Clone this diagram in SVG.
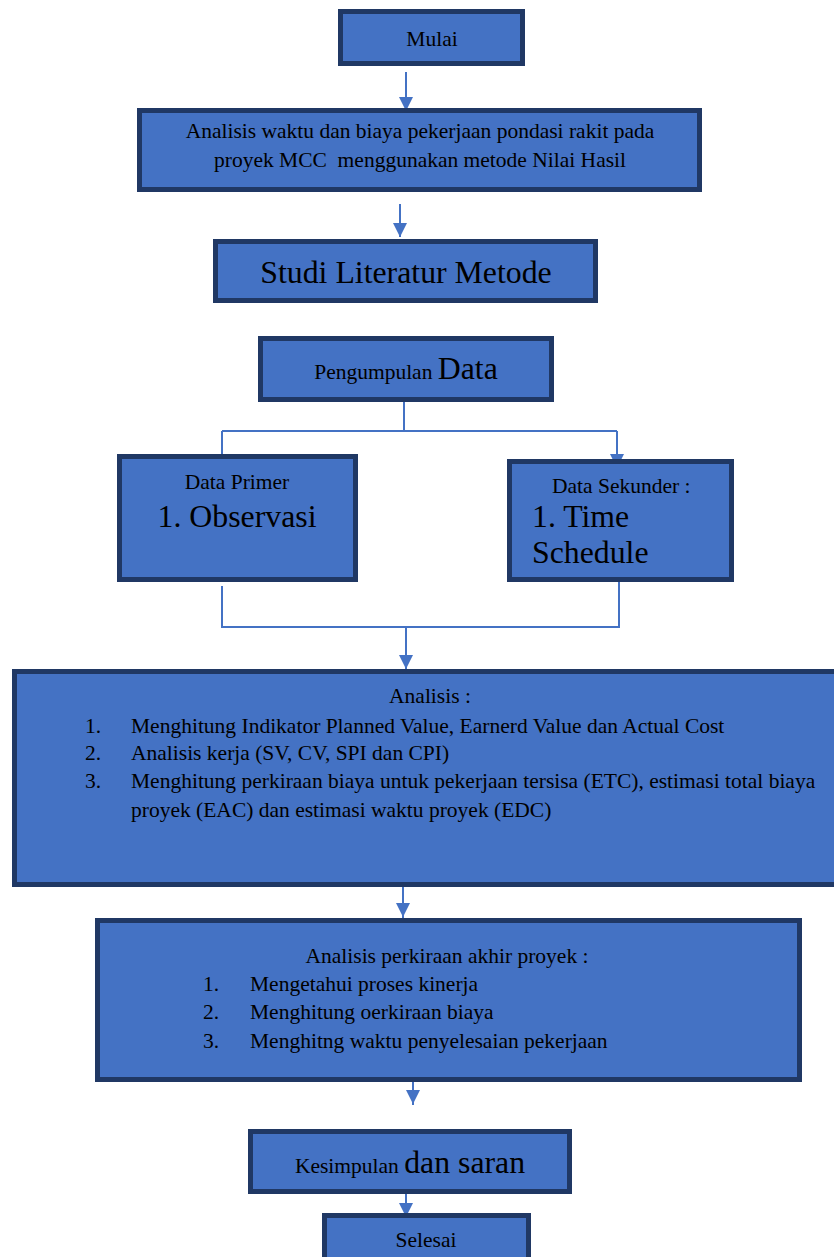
<svg xmlns="http://www.w3.org/2000/svg" width="834" height="1257" viewBox="0 0 834 1257">
<style>
.box{fill:#4472C4;stroke:#203864;stroke-width:5}
text{font-family:"Liberation Serif",serif;fill:#000;font-size:21.5px;white-space:pre}
.big{font-size:31.8px}
.c{text-anchor:middle}
.con{fill:none;stroke:#4472C4;stroke-width:2}
</style>
<g id="connectors">
<path class="con" d="M406,72 V110"/>
<path class="con" d="M400,204 V237"/>
<path class="con" d="M404,402 V431 M222,431 H617 M222,431 V456"/>
<path class="con" d="M617,431 V468"/>
<path class="con" d="M222,586 V627 H619 V582"/>
<path class="con" d="M406,627 V669"/>
<path class="con" d="M403,887 V918"/>
<path class="con" d="M413,1082 V1105"/>
<path class="con" d="M406,1193 V1218"/>
</g>
<g id="arrows" fill="#4472C4">
<path d="M399,97 L413,97 L406,111 Z"/>
<path d="M393,223 L407,223 L400,237 Z"/>
<path d="M610,454 L624,454 L617,468 Z"/>
<path d="M399,655 L413,655 L406,669 Z"/>
<path d="M396,903 L410,903 L403,917 Z"/>
<path d="M406,1090 L420,1090 L413,1104 Z"/>
<path d="M399,1203 L413,1203 L406,1217 Z"/>
</g>
<g id="mulai">
<rect class="box" x="340.5" y="11.5" width="182" height="52"/>
<text class="c" x="432" y="46">Mulai</text>
</g>
<g id="analisis-judul">
<rect class="box" x="139.5" y="110.5" width="560" height="79"/>
<text class="c" x="420" y="138">Analisis waktu dan biaya pekerjaan pondasi rakit pada</text>
<text class="c" x="420" y="167">proyek MCC  menggunakan metode Nilai Hasil</text>
</g>
<g id="studi">
<rect class="box" x="215.5" y="241.5" width="380" height="59"/>
<text class="big c" x="406" y="283">Studi Literatur Metode</text>
</g>
<g id="pengumpulan">
<rect class="box" x="260.5" y="338.5" width="291" height="61"/>
<text class="c" x="406" y="379">Pengumpulan <tspan class="big">Data</tspan></text>
</g>
<g id="primer">
<rect class="box" x="119.5" y="456.5" width="236" height="123"/>
<text class="c" x="237" y="489">Data Primer</text>
<text class="big c" x="237" y="527">1. Observasi</text>
</g>
<g id="sekunder">
<rect class="box" x="509.5" y="461.5" width="222" height="118"/>
<text x="552" y="493">Data Sekunder :</text>
<text class="big" x="532" y="527">1. Time</text>
<text class="big" x="532" y="563">Schedule</text>
</g>
<g id="analisis">
<rect class="box" x="14.5" y="671.5" width="825" height="213"/>
<text class="c" x="430" y="703">Analisis :</text>
<text x="85" y="733">1.</text>
<text x="131" y="733">Menghitung Indikator Planned Value, Earnerd Value dan Actual Cost</text>
<text x="85" y="760">2.</text>
<text x="131" y="760">Analisis kerja (SV, CV, SPI dan CPI)</text>
<text x="85" y="788">3.</text>
<text x="131" y="788">Menghitung perkiraan biaya untuk pekerjaan tersisa (ETC), estimasi total biaya</text>
<text x="131" y="817">proyek (EAC) dan estimasi waktu proyek (EDC)</text>
</g>
<g id="perkiraan">
<rect class="box" x="97.5" y="920.5" width="702" height="159"/>
<text class="c" x="447" y="963">Analisis perkiraan akhir proyek :</text>
<text x="203" y="991">1.</text>
<text x="250" y="991">Mengetahui proses kinerja</text>
<text x="203" y="1019">2.</text>
<text x="250" y="1019">Menghitung oerkiraan biaya</text>
<text x="203" y="1048">3.</text>
<text x="250" y="1048">Menghitng waktu penyelesaian pekerjaan</text>
</g>
<g id="kesimpulan">
<rect class="box" x="250.5" y="1131.5" width="319" height="60"/>
<text class="c" x="410" y="1173">Kesimpulan <tspan class="big">dan saran</tspan></text>
</g>
<g id="selesai">
<rect class="box" x="324.5" y="1215.5" width="204" height="50"/>
<text class="c" x="426" y="1247">Selesai</text>
</g>
</svg>
